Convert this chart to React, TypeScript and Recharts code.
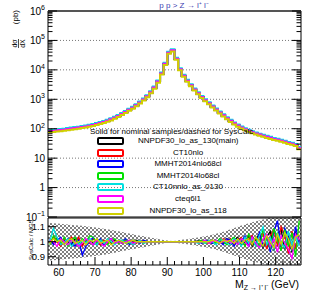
import React from "react";
import {
  ComposedChart,
  Line,
  Area,
  XAxis,
  YAxis,
  ReferenceLine,
  ReferenceArea,
  Legend,
} from "recharts";

const FONT = "'Liberation Sans', Arial, Helvetica, sans-serif";

// 1 GeV bins from 57 to 127 GeV
const X_MIN = 57;
const X_MAX = 127;
const BIN_LO = Array.from({ length: 70 }, (_, i) => X_MIN + i);

// d sigma / dX (pb), nominal sample
const XSEC = [
  82, 84, 87, 90, 93, 97, 101, 105, 109, 114,
  120, 127, 135, 145, 156, 170, 187, 208, 235, 270,
  315, 370, 440, 520, 630, 780, 980, 1280, 1750, 2500,
  4000, 7500, 16000, 38000, 46000, 24000, 10500, 6300, 4300, 3000,
  2150, 1600, 1200, 930, 730, 570, 450, 355, 285, 228,
  185, 152, 128, 110, 96, 85, 76, 69, 63, 58,
  53, 49, 45, 42, 39, 36, 33, 31, 28, 22,
];

const PDF_SETS = [
  "NNPDF30_lo_as_130(main)",
  "CT10nlo",
  "MMHT2014nlo68cl",
  "MMHT2014lo68cl",
  "CT10nnlo_as_0130",
  "cteq6l1",
  "NNPDF30_lo_as_118",
];
const PDF_COLORS = ["#000000", "#ff0000", "#0000ff", "#00e000", "#00e0e0", "#ff00ff", "#d0d000"];
// relative normalisation of each set w.r.t. the main one
const PDF_NORM = [1.0, 0.99, 1.0, 0.98, 1.08, 1.0, 0.92];

// half width of the hatched stat band in the ratio panel
const STAT_BAND = [
  0.125, 0.123, 0.121, 0.119, 0.117, 0.115, 0.112, 0.11, 0.108, 0.106,
  0.103, 0.1, 0.097, 0.094, 0.09, 0.087, 0.083, 0.078, 0.074, 0.069,
  0.064, 0.059, 0.054, 0.05, 0.045, 0.04, 0.036, 0.032, 0.027, 0.023,
  0.018, 0.013, 0.009, 0.006, 0.005, 0.007, 0.011, 0.014, 0.017, 0.021,
  0.024, 0.028, 0.033, 0.037, 0.042, 0.047, 0.053, 0.06, 0.067, 0.075,
  0.083, 0.092, 0.1, 0.108, 0.115, 0.123, 0.13, 0.136, 0.142, 0.148,
  0.155, 0.161, 0.168, 0.174, 0.181, 0.188, 0.197, 0.203, 0.214, 0.241,
];

// SysCalc / MG5 ratios
const RATIO_NNPDF130 = [
  1.01, 0.99, 1.02, 0.98, 1.01, 1.0, 0.98, 1.02, 1.01, 0.98,
  1.0, 1.02, 0.99, 1.01, 0.98, 1.0, 1.01, 0.99, 1.01, 1.0,
  0.99, 1.01, 1.0, 0.99, 1.01, 1.0, 1.0, 0.995, 1.0, 1.0,
  1.0, 1.0, 1.0, 1.0, 1.0, 1.0, 1.0, 1.0, 1.0, 1.0,
  1.0, 1.005, 0.995, 1.0, 1.01, 0.99, 1.0, 1.01, 0.99, 1.02,
  0.98, 1.01, 1.03, 0.98, 1.0, 1.04, 0.97, 1.02, 1.05, 0.96,
  1.03, 1.07, 0.94, 1.05, 1.08, 0.95, 1.04, 0.93, 1.06, 1.0,
];
const RATIO_CT10NLO = [
  0.99, 1.03, 1.0, 0.97, 1.02, 1.0, 1.03, 0.99, 1.03, 0.97,
  1.01, 0.99, 1.02, 1.0, 0.98, 1.01, 0.99, 1.02, 1.0, 0.99,
  1.01, 0.99, 1.01, 1.0, 0.99, 1.01, 1.0, 1.0, 1.0, 1.0,
  1.0, 1.0, 1.0, 1.0, 1.0, 1.0, 1.0, 1.0, 1.0, 1.0,
  1.0, 0.995, 1.005, 1.0, 0.99, 1.01, 1.0, 0.99, 1.02, 0.99,
  1.02, 0.98, 1.01, 1.03, 0.97, 1.02, 1.04, 0.97, 1.03, 1.06,
  0.95, 1.04, 1.08, 0.97, 1.1, 1.04, 0.92, 1.07, 0.96, 1.03,
];
const RATIO_MMHTNLO = [
  1.02, 0.98, 1.01, 1.03, 0.98, 1.02, 0.99, 0.97, 1.01, 0.91,
  0.97, 1.0, 1.03, 0.99, 1.02, 0.98, 1.0, 1.02, 0.99, 1.01,
  1.0, 1.02, 0.98, 1.01, 1.0, 0.99, 1.01, 1.0, 1.0, 1.0,
  1.0, 1.0, 1.0, 1.0, 1.0, 1.0, 1.0, 1.0, 1.0, 1.0,
  1.0, 1.0, 0.99, 1.01, 1.0, 0.99, 1.01, 1.0, 0.98, 1.02,
  1.01, 0.97, 1.02, 1.0, 1.04, 0.97, 1.03, 0.98, 1.06, 0.97,
  1.05, 0.93, 1.07, 1.14, 0.96, 1.09, 1.03, 0.94, 1.1, 0.99,
];
const RATIO_MMHTLO = [
  0.98, 1.04, 1.01, 0.99, 1.03, 0.97, 1.01, 1.03, 0.98, 1.02,
  1.0, 1.04, 1.03, 0.99, 1.01, 1.0, 0.98, 1.01, 1.02, 0.99,
  1.0, 1.01, 0.99, 1.01, 1.0, 1.0, 0.99, 1.0, 1.0, 1.0,
  1.0, 1.0, 1.0, 1.0, 1.0, 1.0, 1.0, 1.0, 1.0, 1.0,
  1.0, 1.0, 1.01, 0.99, 1.0, 1.01, 0.99, 1.02, 1.0, 0.98,
  1.01, 1.03, 0.98, 1.02, 0.97, 1.05, 1.0, 1.03, 0.96, 1.08,
  1.02, 0.96, 1.09, 1.01, 0.94, 1.08, 0.97, 1.06, 0.9, 1.14,
];
const RATIO_CT10NNLO = [
  1.0, 1.09, 1.03, 0.98, 1.0, 1.02, 0.97, 1.0, 0.98, 1.01,
  0.99, 1.02, 1.0, 0.98, 1.01, 0.99, 1.02, 1.0, 0.98, 1.01,
  1.01, 0.99, 1.0, 0.98, 1.0, 1.01, 0.99, 1.0, 1.0, 1.0,
  1.0, 1.0, 1.0, 1.0, 1.0, 1.0, 1.0, 1.0, 1.0, 1.0,
  1.0, 0.99, 1.0, 0.99, 1.01, 1.0, 0.98, 1.01, 1.01, 0.99,
  0.98, 1.02, 1.01, 0.97, 1.03, 0.99, 1.02, 0.97, 1.04, 1.1,
  0.98, 1.03, 0.95, 1.06, 1.0, 0.96, 1.07, 0.98, 1.04, 0.97,
];
const RATIO_CTEQ6L1 = [
  1.01, 1.0, 0.97, 1.02, 1.0, 0.98, 1.01, 1.0, 0.97, 0.99,
  1.02, 1.0, 0.98, 1.01, 0.99, 0.97, 1.0, 1.02, 0.99, 1.0,
  0.99, 1.0, 1.01, 0.99, 1.0, 1.0, 1.0, 1.0, 1.0, 1.0,
  1.0, 1.0, 1.0, 1.0, 1.0, 1.0, 1.0, 1.0, 1.0, 1.0,
  1.0, 1.0, 1.0, 1.01, 0.99, 1.0, 1.01, 0.99, 1.0, 1.01,
  0.99, 1.01, 0.98, 1.02, 1.0, 0.97, 1.03, 0.99, 0.96, 1.02,
  1.05, 0.97, 1.02, 0.93, 1.04, 0.99, 0.95, 0.89, 1.05, 1.01,
];
const RATIO_NNPDF118 = [
  0.99, 1.02, 1.0, 1.01, 0.98, 1.01, 1.02, 0.99, 1.0, 1.01,
  0.98, 1.01, 1.0, 1.02, 0.99, 1.0, 1.01, 0.98, 1.0, 1.01,
  1.0, 0.99, 1.0, 1.01, 1.0, 1.0, 1.0, 1.0, 1.0, 1.0,
  1.0, 1.0, 1.0, 1.0, 1.0, 1.0, 1.0, 1.0, 1.0, 1.0,
  1.0, 1.0, 1.0, 1.0, 1.0, 1.01, 1.0, 0.99, 1.01, 1.0,
  1.01, 0.99, 1.02, 0.99, 1.01, 1.02, 0.98, 1.03, 1.0, 0.97,
  1.04, 1.0, 0.96, 1.05, 0.98, 1.06, 1.02, 0.95, 1.03, 1.05,
];
const RATIOS = [
  RATIO_NNPDF130,
  RATIO_CT10NLO,
  RATIO_MMHTNLO,
  RATIO_MMHTLO,
  RATIO_CT10NNLO,
  RATIO_CTEQ6L1,
  RATIO_NNPDF118,
];

const Y_MAJOR = [0.1, 1, 10, 100, 1e3, 1e4, 1e5, 1e6];
const Y_EXP = ["\u22121", "0", "1", "2", "3", "4", "5", "6"];
const Y_MINOR = Y_MAJOR.slice(0, -1).flatMap((d) => [2, 3, 4, 5, 6, 7, 8, 9].map((k) => k * d));
const Y_TICKS = [...Y_MAJOR, ...Y_MINOR];
const X_MAJOR = [60, 70, 80, 90, 100, 110, 120];
const X_MINOR = [58, 62, 64, 66, 68, 72, 74, 76, 78, 82, 84, 86, 88, 92, 94, 96, 98, 102, 104, 106, 108, 112, 114, 116, 118, 122, 124, 126];
const R_TICKS = [0.9, 1, 1.1];

const histRows = [...BIN_LO, X_MAX].map((x, i) => {
  const j = Math.min(i, XSEC.length - 1);
  const row: Record<string, number> = { x };
  PDF_NORM.forEach((n, k) => {
    row[`s${k}`] = XSEC[j] * n;
  });
  return row;
});

const bandAt = (i: number) => [1 - STAT_BAND[i], 1 + STAT_BAND[i]];
const ratioRows = [
  { m: X_MIN, band: bandAt(0) },
  ...BIN_LO.map((lo, i) => {
    const row: Record<string, any> = { m: lo + 0.5, band: bandAt(i) };
    RATIOS.forEach((r, k) => {
      row[`r${k}`] = r[i];
    });
    return row;
  }),
  { m: X_MAX, band: bandAt(STAT_BAND.length - 1) },
];

function LogTick(props: any) {
  const { x, y, payload, side } = props;
  const v = payload.value;
  const idx = Y_MAJOR.indexOf(v);
  const major = idx >= 0;
  const dir = side === "left" ? 1 : -1;
  const len = major ? 9 : 4.5;
  let label: React.ReactNode = null;
  if (side === "left" && major) {
    label =
      v === 1 || v === 10 ? (
        <text x={x - 3} y={y + 3.5} textAnchor="end" fontSize={10} fontFamily={FONT} fill="#000">
          {v}
        </text>
      ) : (
        <text x={x - 3} y={y + 3.5} textAnchor="end" fontSize={10} fontFamily={FONT} fill="#000">
          10
          <tspan dy={-4.5} fontSize={7}>
            {Y_EXP[idx]}
          </tspan>
        </text>
      );
  }
  return (
    <g>
      <line x1={x} x2={x + dir * len} y1={y} y2={y} stroke="#000" strokeWidth={1} />
      {label}
    </g>
  );
}

function XTick(props: any) {
  const { x, y, payload } = props;
  const major = X_MAJOR.includes(payload.value);
  return (
    <g>
      <line x1={x} x2={x} y1={y} y2={y - (major ? 8 : 4)} stroke="#000" strokeWidth={1} />
      {major && (
        <text x={x} y={y + 10.5} textAnchor="middle" fontSize={10} fontFamily={FONT} fill="#000">
          {payload.value}
        </text>
      )}
    </g>
  );
}

function RatioTick(props: any) {
  const { x, y, payload } = props;
  return (
    <g>
      <line x1={x} x2={x + 8} y1={y} y2={y} stroke="#000" strokeWidth={1} />
      <text x={x - 3} y={y + 3} textAnchor="end" fontSize={9.5} fontFamily={FONT} fill="#000">
        {payload.value}
      </text>
    </g>
  );
}

function PdfLegend() {
  return (
    <div style={{ position: "relative", width: 220, height: 92, fontFamily: FONT, fontSize: 8, color: "#000" }}>
      <div style={{ position: "absolute", left: 6, top: 2, whiteSpace: "nowrap", lineHeight: "10px" }}>
        Solid for nominal samples/dashed for SysCalc
      </div>
      {PDF_SETS.map((name, i) => (
        <React.Fragment key={name}>
          <div
            style={{
              position: "absolute",
              left: 13,
              top: 12 + i * 11.6,
              width: 23,
              height: 4,
              border: `2px solid ${PDF_COLORS[i]}`,
              borderRadius: 2,
            }}
          />
          <div
            style={{
              position: "absolute",
              left: 54,
              width: 100,
              top: 11 + i * 11.6,
              textAlign: "center",
              whiteSpace: "nowrap",
              lineHeight: "10px",
            }}
          >
            {name}
          </div>
        </React.Fragment>
      ))}
    </div>
  );
}

export default function App() {
  return (
    <div style={{ position: "absolute", left: 0, top: 0, width: 318, height: 291, background: "#fff", overflow: "hidden" }}>
      <div style={{ position: "absolute", left: 0, top: 0 }}>
        <ComposedChart width={318} height={224} data={histRows} margin={{ top: 11, right: 0, bottom: 7, left: 0 }}>
          <XAxis dataKey="x" type="number" domain={[X_MIN, X_MAX]} hide allowDataOverflow />
          <YAxis
            yAxisId="l"
            orientation="left"
            scale="log"
            domain={[0.1, 1e6]}
            ticks={Y_TICKS}
            interval={0}
            width={48}
            tick={<LogTick side="left" />}
            tickSize={0}
            tickMargin={0}
            tickLine={false}
            axisLine={false}
            allowDataOverflow
          />
          <YAxis
            yAxisId="r"
            orientation="right"
            scale="log"
            domain={[0.1, 1e6]}
            ticks={Y_TICKS}
            interval={0}
            width={17}
            tick={<LogTick side="right" />}
            tickSize={0}
            tickMargin={0}
            tickLine={false}
            axisLine={false}
            allowDataOverflow
          />
          {Y_MAJOR.slice(1, -1).map((v) => (
            <ReferenceLine key={v} yAxisId="l" y={v} stroke="#777" strokeWidth={1} strokeDasharray="1 2" />
          ))}
          {PDF_SETS.map((name, k) => (
            <Line
              key={name}
              yAxisId="l"
              name={name}
              dataKey={`s${k}`}
              type="stepAfter"
              stroke={PDF_COLORS[k]}
              strokeWidth={2}
              dot={false}
              isAnimationActive={false}
            />
          ))}
          <ReferenceArea
            yAxisId="l"
            x1={X_MIN}
            x2={X_MAX}
            y1={0.1}
            y2={1e6}
            fill="none"
            stroke="#000"
            strokeWidth={1}
            ifOverflow="visible"
          />
          <ReferenceLine yAxisId="l" y={1e6} stroke="#555" strokeWidth={2} />
          <Legend
            layout="vertical"
            align="center"
            verticalAlign="middle"
            content={<PdfLegend />}
            wrapperStyle={{ left: 84, top: 125, width: 220, height: 92 }}
          />
        </ComposedChart>
      </div>

      <div style={{ position: "absolute", left: 0, top: 217 }}>
        <ComposedChart width={318} height={74} data={ratioRows} margin={{ top: 1, right: 17, bottom: 0, left: 0 }}>
          <defs>
            <pattern id="statHatch" width={4} height={4} patternUnits="userSpaceOnUse">
              <rect x={0} y={0} width={2} height={2} fill="#555" />
              <rect x={2} y={2} width={2} height={2} fill="#555" />
            </pattern>
          </defs>
          <XAxis
            dataKey="m"
            type="number"
            domain={[X_MIN, X_MAX]}
            ticks={[...X_MAJOR, ...X_MINOR]}
            interval={0}
            height={26}
            tick={<XTick />}
            tickSize={0}
            tickMargin={0}
            tickLine={false}
            axisLine={false}
            allowDataOverflow
          />
          <YAxis
            domain={[0.845, 1.158]}
            ticks={R_TICKS}
            interval={0}
            width={48}
            tick={<RatioTick />}
            tickSize={0}
            tickMargin={0}
            tickLine={false}
            axisLine={false}
            allowDataOverflow
          />
          <Area
            dataKey="band"
            type="linear"
            stroke="none"
            fill="url(#statHatch)"
            fillOpacity={0.75}
            isAnimationActive={false}
          />
          {PDF_SETS.map((name, k) => (
            <Line
              key={name}
              dataKey={`r${k}`}
              type="linear"
              stroke={PDF_COLORS[k]}
              strokeWidth={1.3}
              dot={false}
              isAnimationActive={false}
            />
          ))}
          <ReferenceArea
            x1={X_MIN}
            x2={X_MAX}
            y1={0.845}
            y2={1.158}
            fill="none"
            stroke="#000"
            strokeWidth={1}
            ifOverflow="visible"
          />
        </ComposedChart>
      </div>

      <svg width={318} height={291} style={{ position: "absolute", left: 0, top: 0, pointerEvents: "none" }}>
        <text x={184} y={7.5} textAnchor="middle" fontSize={8} fontFamily={FONT} fill="#4040b0">
          {"p p > Z \u2192 l\u207A l\u207B"}
        </text>
        <g transform="translate(18,10) rotate(-90)" fontFamily={FONT} fill="#000">
          <text x={0} y={0} textAnchor="end" fontSize={8}>
            (pb)
          </text>
          <text x={-33.5} y={-1.5} textAnchor="middle" fontSize={7}>
            d{"\u03C3"}
          </text>
          <line x1={-38} x2={-29} y1={0.5} y2={0.5} stroke="#000" strokeWidth={0.7} />
          <text x={-33.5} y={6.5} textAnchor="middle" fontSize={7}>
            dX
          </text>
        </g>
        <g transform="translate(33,220) rotate(-90)">
          <text x={0} y={0} textAnchor="end" fontSize={6} fontFamily={FONT} fill="#000">
            SysCalc / MG5
          </text>
        </g>
        <text x={299} y={287.5} textAnchor="end" fontSize={10.5} fontFamily={FONT} fill="#000">
          M
          <tspan dy={2.5} fontSize={7}>
            {"Z \u2192 l\u207A l\u207B"}
          </tspan>
          <tspan dy={-2.5} fontSize={10.5}>
            {" (GeV)"}
          </tspan>
        </text>
      </svg>
    </div>
  );
}
